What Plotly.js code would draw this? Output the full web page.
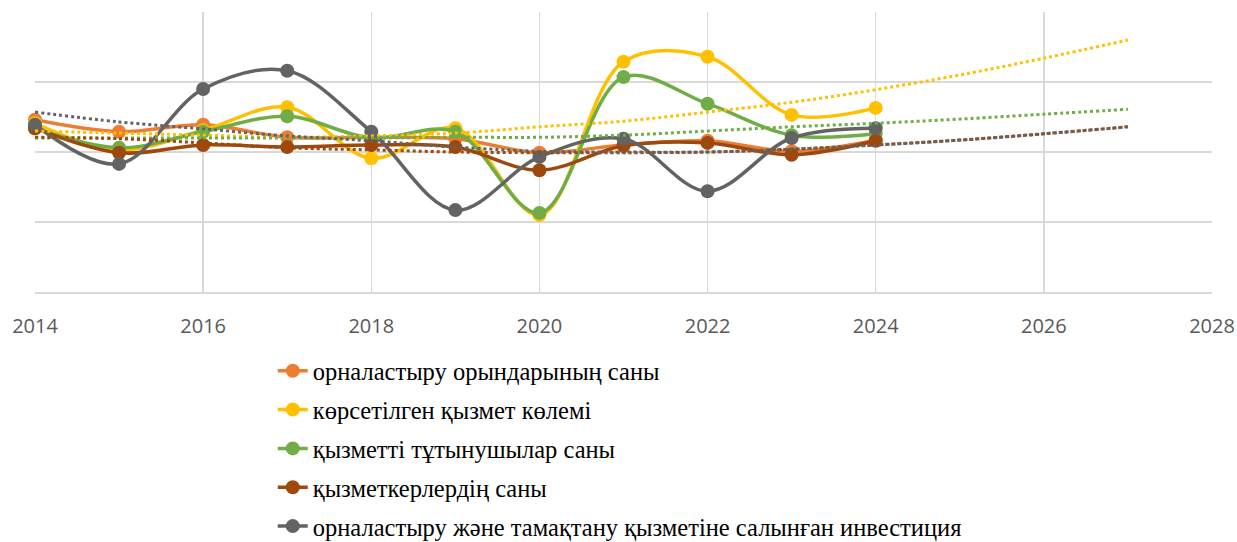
<!DOCTYPE html>
<html>
<head>
<meta charset="utf-8">
<script src="https://cdn.plot.ly/plotly-3.0.1.min.js"></script>
<style>html,body{margin:0;padding:0;background:#fff;}#chart{width:1237px;height:542px;}</style>
</head>
<body>
<div id="chart"></div>
<script>
const years = [2014, 2015, 2016, 2017, 2018, 2019, 2020, 2021, 2022, 2023, 2024];
const trendYears = [2014, 2015, 2016, 2017, 2018, 2019, 2020, 2021, 2022, 2023, 2024, 2025, 2026, 2027];

const seriesNames = [
  "орналастыру орындарының саны",
  "көрсетілген қызмет көлемі",
  "қызметті тұтынушылар саны",
  "қызметкерлердің саны",
  "орналастыру және тамақтану қызметіне салынған инвестиция"
];

const placesCount   = [0.46, 0.29, 0.39, 0.21, 0.21, 0.19, -0.01, 0.10, 0.16, 0.01, 0.17];
const serviceVolume = [0.41, 0.03, 0.31, 0.64, -0.09, 0.34, -0.90, 1.29, 1.36, 0.53, 0.63];
const consumers     = [0.34, 0.06, 0.29, 0.51, 0.20, 0.29, -0.87, 1.07, 0.69, 0.24, 0.26];
const employees     = [0.34, -0.01, 0.10, 0.07, 0.10, 0.07, -0.26, 0.09, 0.13, -0.04, 0.16];
const investment    = [0.39, -0.17, 0.90, 1.16, 0.29, -0.83, -0.07, 0.19, -0.56, 0.20, 0.34];

const trendServiceVolume = [0.30, 0.27, 0.24, 0.21, 0.23, 0.27, 0.36, 0.44, 0.57, 0.71, 0.89, 1.10, 1.34, 1.60];
const trendConsumers     = [0.20, 0.20, 0.20, 0.20, 0.20, 0.21, 0.21, 0.24, 0.30, 0.36, 0.41, 0.47, 0.54, 0.61];
const trendEmployees     = [0.21, 0.19, 0.13, 0.06, 0.03, 0.00, -0.01, -0.01, 0.00, 0.04, 0.10, 0.17, 0.26, 0.36];
const trendInvestment    = [0.57, 0.43, 0.33, 0.23, 0.16, 0.07, 0.01, 0.00, 0.00, 0.04, 0.10, 0.17, 0.26, 0.36];

const colors = ["#ED7D31", "#FFC000", "#70AD47", "#9E480E", "#636363"];
const seriesData = [placesCount, serviceVolume, consumers, employees, investment];

const traces = [];
seriesData.forEach((vals, i) => {
  traces.push({
    x: years, y: vals, name: seriesNames[i], type: "scatter", mode: "lines+markers",
    line: {color: colors[i], width: 3.5, shape: "spline", smoothing: 1},
    marker: {color: colors[i], size: 14},
    legendgroup: "g" + i, cliponaxis: false
  });
});

const trends = [
  [trendServiceVolume, colors[1]],
  [trendConsumers, colors[2]],
  [trendEmployees, colors[3]],
  [trendInvestment, colors[4]]
];
trends.forEach(([vals, c]) => {
  traces.push({
    x: trendYears, y: vals, type: "scatter", mode: "lines", showlegend: false,
    line: {color: c, width: 3, dash: "dot", shape: "spline", smoothing: 1},
    hoverinfo: "skip"
  });
});

const layout = {
  width: 1237, height: 542,
  margin: {l: 35, r: 25, t: 12, b: 250, autoexpand: false},
  paper_bgcolor: "#fff", plot_bgcolor: "#fff",
  showlegend: true,
  xaxis: {
    range: [2014, 2028], dtick: 2, tick0: 2014,
    showgrid: true, gridcolor: "#d9d9d9", gridwidth: 1.5,
    showline: true, linecolor: "#d9d9d9", linewidth: 1.5,
    zeroline: false, ticks: "", ticklabelstandoff: 15,
    tickfont: {family: "Open Sans, sans-serif", size: 20, color: "#595959"}
  },
  yaxis: {
    range: [-2, 2], dtick: 1,
    showgrid: true, gridcolor: "#d9d9d9", gridwidth: 1.5,
    showticklabels: false, zeroline: false, showline: false
  },
  legend: {
    x: 0.202, xanchor: "left", y: -0.201, yanchor: "top",
    traceorder: "grouped", tracegroupgap: 4,
    font: {family: "Liberation Serif, Times New Roman, serif", size: 24.5, color: "#000"},
    bgcolor: "rgba(0,0,0,0)"
  }
};

Plotly.newPlot("chart", traces, layout, {displayModeBar: false, staticPlot: true});
</script>
</body>
</html>
